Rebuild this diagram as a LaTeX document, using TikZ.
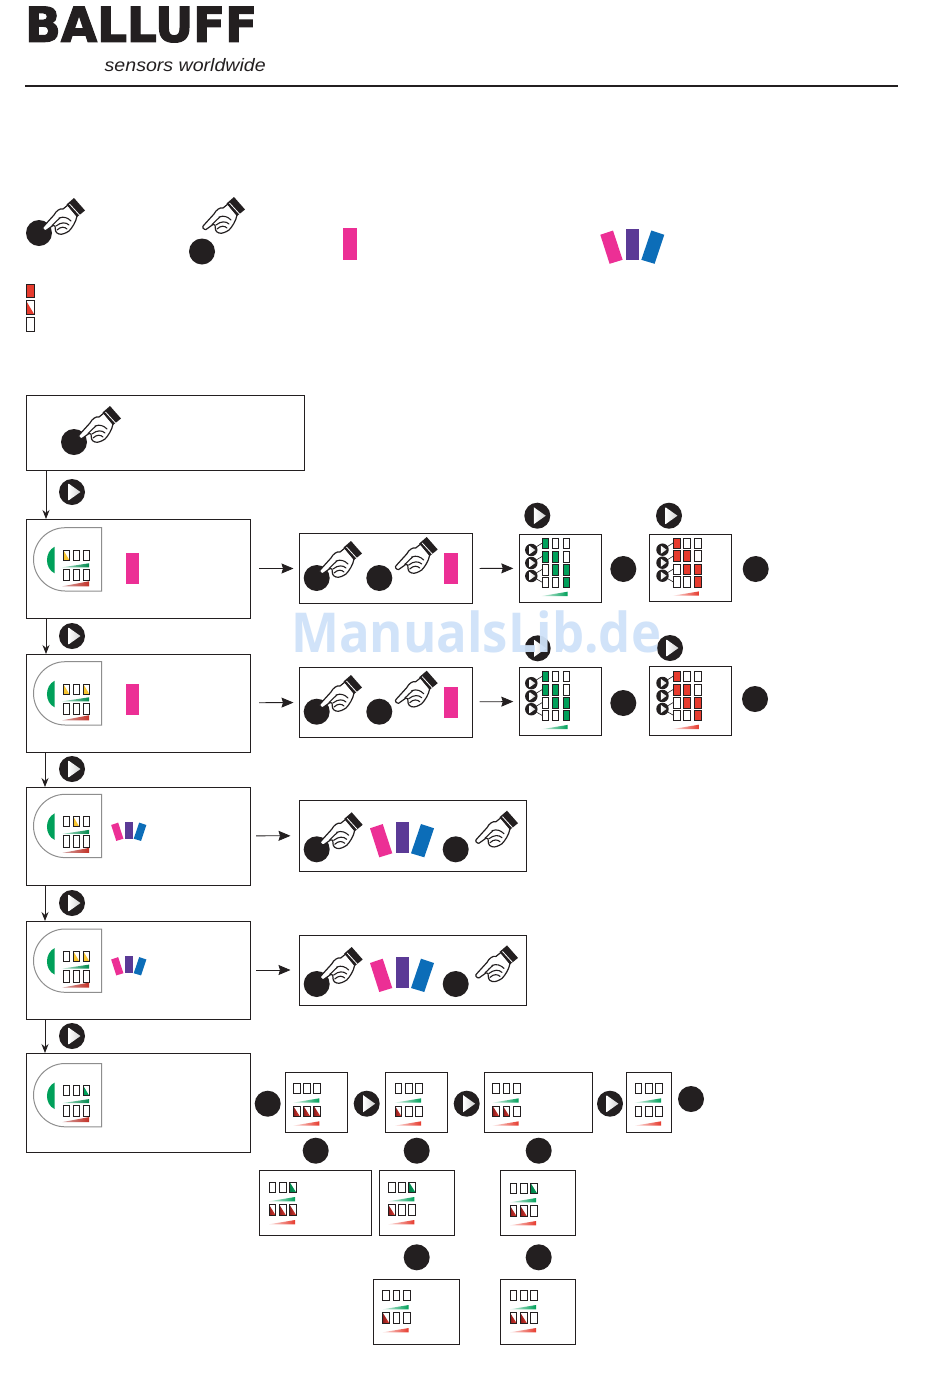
\documentclass[tikz,border=0pt]{standalone}
\usepackage{fontspec}
\usepackage{graphicx}
\setmainfont{Liberation Sans}
\newfontfamily\logofont[BoldFeatures={FakeBold=2.5}]{DejaVu Sans}
\newfontfamily\markfont{Open Sans}
\usetikzlibrary{arrows.meta,fit}
\definecolor{ink}{HTML}{231F20}
\definecolor{pinkbar}{HTML}{EC2F95}
\definecolor{violetbar}{HTML}{5B3A96}
\definecolor{bluebar}{HTML}{0C6DB8}
\definecolor{ledred}{HTML}{E63B2E}
\definecolor{darkred}{HTML}{8C1D1D}
\definecolor{ledgreen}{HTML}{00A05A}
\definecolor{ledyellow}{HTML}{F8C630}
\definecolor{devgray}{HTML}{8E8E8E}
\definecolor{markblue}{HTML}{CFE2F9}
\tikzset{
  bx/.style={draw=ink,line width=1pt,inner sep=0pt,outer sep=0pt,fill=white},
  dot/.style={circle,fill=ink,minimum size=26pt,inner sep=0pt},
  arr/.style={draw=ink,line width=0.8pt,-{Stealth[length=12pt,width=10pt,inset=1.5pt]}},
  varr/.style={draw=ink,line width=0.8pt,-{Stealth[length=9pt,width=7pt]}},
  led/.style={draw=ink,line width=1pt,fill=white},
  play/.pic={
    \fill[ink] (0,0) circle (13);
    \fill[left color=white,right color=black!18] (-3.5,-8.5) -- (8.5,0) -- (-3.5,8.5) -- cycle;
  },
  hand/.pic={
    % tip of the finger at the origin
    \fill[white,draw=ink,line width=1.2pt,line join=round]
      (0,0) .. controls (-0.8,-1) and (0,-2) .. (1,-3)
      -- (11,-14) .. controls (13,-18) and (17,-21) .. (20,-20)
      -- (25,-24) -- (34,-13)
      .. controls (33,-7) and (29,-1) .. (26,2)
      .. controls (23,4) and (19,6) .. (16,5)
      .. controls (12,4) and (12,0) .. (12,-3)
      -- (10,-3.5) -- (3,1.5) .. controls (2,2) and (1,1) .. (0,0) -- cycle;
    \fill[ink] (23.5,-24.5) -- (31,-31) -- (42,-18.5) -- (34,-12) -- cycle;
    \draw[white,line width=0.8pt] (26.5,-25) -- (36.5,-14);
    \draw[ink,line width=1.1pt,line cap=round]
      (9,-3.5) .. controls (13,-7) and (14,-9) .. (17,-11)
      (16,-11) .. controls (21,-13) and (25,-11) .. (28,-8)
      (13,-3) .. controls (18,-7) and (23,-7) .. (26,-4)
      (14,1) .. controls (18,-3) and (22,-2) .. (24,0);
  },
  barset/.pic={
    \fill[pinkbar] (-25.7,6.3) -- (-13,2) -- (-3.4,31.3) -- (-16.4,35.3) -- cycle;
    \fill[violetbar] (0,0) rectangle (13.3,31);
    \fill[bluebar] (25.3,2) -- (38.3,6.3) -- (28.6,35.3) -- (15.3,31.3) -- cycle;
  },
}
% half lit indicator: column x, top y, width, height, colour from, colour to
\newcommand{\halfled}[6]{%
  \shade[left color=#5,right color=#6] (#1,#2) -- (#1,#2+#4) -- (#1+#3,#2+#4) -- cycle;
}
\newcommand{\ledcell}[4]{\draw[led] (#1,#2) rectangle (#1+#3,#2+#4);}
\newcommand{\ledframe}[4]{\draw[ink,line width=1pt] (#1,#2) rectangle (#1+#3,#2+#4);}
% small indicator group in the lower boxes: x, y, lit top columns, lit bottom columns
\newcommand{\minileds}[4]{%
  \begin{scope}[shift={(#1,#2)}]
    \foreach \c in {0,10.3,20.6}{\ledcell{\c}{0}{6.7}{10.6}\ledcell{\c}{22.7}{6.7}{10.6}}
    \foreach \c in {#3}{\ifnum\c>0
      \pgfmathsetmacro\cx{(\c-1)*10.3}
      \halfled{\cx}{0}{6.7}{10.6}{ledgreen!80!black}{ledgreen}\ledframe{\cx}{0}{6.7}{10.6}\fi}
    \foreach \c in {#4}{\ifnum\c>0
      \pgfmathsetmacro\cx{(\c-1)*10.3}
      \halfled{\cx}{22.7}{6.7}{10.6}{darkred}{ledred}\ledframe{\cx}{22.7}{6.7}{10.6}\fi}
    \shade[left color=ledgreen!15!white,right color=ledgreen] (0,19.3) -- (26,15) -- (26,19.3) -- cycle;
    \shade[left color=ledred!15!white,right color=ledred] (0,42.3) -- (26,38) -- (26,42.3) -- cycle;
  \end{scope}}
% device face: x, y, lit columns, colour of lit part
\newcommand{\devface}[4]{%
  \begin{scope}[shift={(#1,#2)}]
    \draw[devgray,line width=1pt,fill=white] (68.2,0) -- (31.65,0)
      .. controls (14.17,0) and (0,14.17) .. (0,31.65)
      .. controls (0,49.13) and (14.17,63.3) .. (31.65,63.3) -- (68.2,63.3) -- cycle;
    \fill[ledgreen] (21.2,19) .. controls (10.9,24) and (10.9,41) .. (21.2,45.6) -- cycle;
    \foreach \c in {29.8,39.8,49.8}{\ledcell{\c}{22.3}{6}{10}\ledcell{\c}{41.6}{6}{11.4}}
    \foreach \c in {#3}{
      \pgfmathsetmacro\cx{29.8+(\c-1)*10}
      \halfled{\cx}{22.3}{6}{10}{#4}{#4}\ledframe{\cx}{22.3}{6}{10}}
    \shade[left color=ledgreen!30!white,right color=ledgreen!85!black] (28.8,39.6) -- (55.5,35.6) -- (55.5,39.6) -- cycle;
    \shade[left color=darkred!40!white,right color=ledred!85!black] (28.8,58.6) -- (55.5,53.6) -- (55.5,58.6) -- cycle;
  \end{scope}}
% full matrix of bar indicators
\newcommand{\matrixleds}[3]{%
  \begin{scope}[shift={(#1,#2)}]
    \foreach \yy/\hh in {0/10,12.8/11,26/10.7,38.7/10.7}{
      \foreach \xx in {0,10,21}{\ledcell{\xx}{\yy}{6.5}{\hh}}}
    \foreach \xx/\yy/\hh in {0/0/10,0/12.8/11,10/12.8/11,10/26/10.7,21/26/10.7,21/38.7/10.7}{
      \draw[ink,line width=1pt,fill=#3] (\xx,\yy) rectangle (\xx+6.5,\yy+\hh);}
    \draw[ink,line width=0.6pt] (-11,11.7) -- (0,4.7) (-11,24.7) -- (0,18) (-11,37.7) -- (0,31)
      (-11,37.7) -- (0,44);
    \pic[scale=0.48] at (-11,11.7) {play};
    \pic[scale=0.48] at (-11,24.7) {play};
    \pic[scale=0.48] at (-11,37.7) {play};
    \shade[left color=#3!15!white,right color=#3] (-0.6,57.7) -- (25.4,53.4) -- (25.4,57.7) -- cycle;
  \end{scope}}
\begin{document}
\begin{tikzpicture}[x=1pt,y=-1pt]
\useasboundingbox (0,0) rectangle (950,1374);
\fill[white] (0,0) rectangle (950,1374);

% header
\node[anchor=north west,inner sep=0pt,text=ink] (logo) at (25,6.5)
  {\resizebox{232pt}{35pt}{\logofont\bfseries BALLUFF}};
\node[anchor=base west,inner sep=0pt,text=ink] (tagline) at (104.5,71.3)
  {\resizebox{161pt}{\height}{\fontsize{18}{20}\selectfont\itshape sensors worldwide}};
\draw[ink,line width=2pt] (25,86) -- (898,86);

% legend
\node[dot] (lc1) at (39,233) {};
\pic at (43,229) {hand};
\node[dot] (lc2) at (202,251.5) {};
\pic at (203,228) {hand};
\fill[pinkbar] (342.5,228) rectangle (356.5,260);
\pic at (626,228.5) {barset};
\draw[ink,line width=0.9pt,fill=ledred] (26,284) rectangle (34,297);
\draw[led] (26,300.5) rectangle (34,314);
\halfled{26}{300.5}{8}{13.5}{ledred}{ledred}
\ledframe{26}{300.5}{8}{13.5}
\draw[led] (26,317.5) rectangle (34,331);

% left column of boxes
\node[bx,fit={(26,395)(304,470)}] (b0) {};
\node[bx,fit={(26,519)(250,618)}] (b1) {};
\node[bx,fit={(26,654)(250,752)}] (b2) {};
\node[bx,fit={(26,787)(250,885)}] (b3) {};
\node[bx,fit={(26,921)(250,1019)}] (b4) {};
\node[bx,fit={(26,1053)(250,1152)}] (b5) {};
\draw[varr] ([xshift=20pt]b0.south west) -- ([xshift=20pt]b1.north west);
\draw[varr] ([xshift=20pt]b1.south west) -- ([xshift=20pt]b2.north west);
\draw[varr] ([xshift=19pt]b2.south west) -- ([xshift=19pt]b3.north west);
\draw[varr] ([xshift=19pt]b3.south west) -- ([xshift=19pt]b4.north west);
\draw[varr] ([xshift=19pt]b4.south west) -- ([xshift=19pt]b5.north west);
\pic at (72,492) {play};
\pic at (72,636) {play};
\pic at (72,769) {play};
\pic at (72,903) {play};
\pic at (72,1036) {play};

\node[dot] (c0) at (74,442) {};
\pic at (79,437) {hand};

\devface{33.5}{527.7}{1}{ledyellow}
\devface{33.5}{661.7}{1,3}{ledyellow}
\devface{33.5}{794.3}{2}{ledyellow}
\devface{33.5}{929}{2,3}{ledyellow}
\devface{33.5}{1063.5}{3}{ledgreen}
\fill[pinkbar] (126,552.7) rectangle (139,584);
\fill[pinkbar] (126,684) rectangle (139,715);
\pic[scale=0.55] at (125.3,821.5) {barset};
\pic[scale=0.55] at (125.3,956) {barset};

% first row
\node[bx,fit={(299.5,533.5)(472.5,603.5)}] (r1) {};
\draw[arr,shorten <=9pt,shorten >=6pt] (b1) -- (r1);
\node[dot] (r1c1) at (316.7,578) {};
\pic at (320,572) {hand};
\node[dot] (r1c2) at (379.3,578) {};
\pic at (395.7,568) {hand};
\fill[pinkbar] (444,553) rectangle (457.5,584);
\node[bx,fit={(519.3,534.3)(601.7,602.3)}] (g1) {};
\node[bx,fit={(649.3,534)(731.7,601.7)}] (m1) {};
\draw[arr,shorten <=7pt,shorten >=6pt] (r1) -- (g1);
\matrixleds{542.3}{538.3}{ledgreen}
\matrixleds{673.5}{538}{ledred}
\pic at (537.3,515.7) {play};
\pic at (669,515.7) {play};
\node[dot] (g1c) at (623.3,569) {};
\node[dot] (m1c) at (755.7,569) {};

% second row
\node[bx,fit={(299.5,667.3)(472.5,737.3)}] (r2) {};
\draw[arr,shorten <=9pt,shorten >=6pt] (b2) -- (r2);
\node[dot] (r2c1) at (316.7,711.7) {};
\pic at (320,706) {hand};
\node[dot] (r2c2) at (379.3,711.7) {};
\pic at (395.7,701.7) {hand};
\fill[pinkbar] (444,686.7) rectangle (457.5,717.7);
\node[bx,fit={(519.3,667.3)(601.7,735.3)}] (g2) {};
\node[bx,fit={(649.3,666.7)(731.7,735.5)}] (m2) {};
\draw[arr,shorten <=7pt,shorten >=6pt] (r2) -- (g2);
\matrixleds{542.3}{671.5}{ledgreen}
\matrixleds{673.5}{671.3}{ledred}
\pic at (537.7,648.3) {play};
\pic at (670,648) {play};
\node[dot] (g2c) at (623.3,703) {};
\node[dot] (m2c) at (755,699) {};

% third and fourth rows
\node[bx,fit={(299.5,800.3)(526.7,871)}] (r3) {};
\draw[arr,shorten <=6pt,shorten >=9pt] (b3) -- (r3);
\node[dot] (r3c1) at (316.7,849.3) {};
\pic at (320.7,843.3) {hand};
\pic at (395.7,822) {barset};
\node[dot] (r3c2) at (455.7,849.3) {};
\pic at (476,841.7) {hand};

\node[bx,fit={(299.5,935)(526.7,1005)}] (r4) {};
\draw[arr,shorten <=6pt,shorten >=9pt] (b4) -- (r4);
\node[dot] (r4c1) at (316.7,984) {};
\pic at (320.7,978) {hand};
\pic at (395.7,956.7) {barset};
\node[dot] (r4c2) at (455.7,984) {};
\pic at (476,976.4) {hand};

% bottom tree
\node[dot] (t0) at (267.7,1103.7) {};
\node[bx,fit={(285.3,1072.3)(347.7,1132.3)}] (ta) {};
\node[bx,fit={(385.3,1072.3)(447.7,1132.3)}] (tb) {};
\node[bx,fit={(484.3,1072.3)(592.3,1132.3)}] (tc) {};
\node[bx,fit={(626.3,1072.3)(671.7,1132.3)}] (td) {};
\pic at (366.7,1103.7) {play};
\pic at (466.7,1103.7) {play};
\pic at (610,1103.7) {play};
\node[dot] (t1) at (691,1099) {};
\node[dot] (ta1) at (315.7,1150.7) {};
\node[dot] (tb1) at (416.7,1150.7) {};
\node[dot] (tc1) at (538.7,1150.7) {};
\node[bx,fit={(259.3,1170.3)(371.7,1235.3)}] (te) {};
\node[bx,fit={(379.3,1170.3)(454.3,1235.3)}] (tf) {};
\node[bx,fit={(500.3,1170.3)(575.7,1235.3)}] (tg) {};
\node[dot] (tf1) at (416.7,1257.3) {};
\node[dot] (tg1) at (538.7,1257.3) {};
\node[bx,fit={(373.3,1279.3)(459.7,1344.3)}] (th) {};
\node[bx,fit={(500.3,1279.3)(575.7,1344.3)}] (ti) {};
\minileds{293.3}{1083.3}{0}{1,2,3}
\minileds{395}{1083.3}{0}{1}
\minileds{492.7}{1083.3}{0}{1,2}
\minileds{635}{1083.3}{0}{0}
\minileds{269}{1182}{3}{1,2,3}
\minileds{388.3}{1182}{3}{1}
\minileds{510}{1183}{3}{1,2}
\minileds{382.7}{1290}{0}{1}
\minileds{510}{1290}{0}{1,2}

% watermark
\node[anchor=base west,inner sep=0pt,text=markblue,opacity=0.95] (wm) at (291,652.7)
  {\resizebox{370pt}{\height}{\fontsize{55}{60}\selectfont\markfont\bfseries ManualsLib.de}};
\end{tikzpicture}
\end{document}
